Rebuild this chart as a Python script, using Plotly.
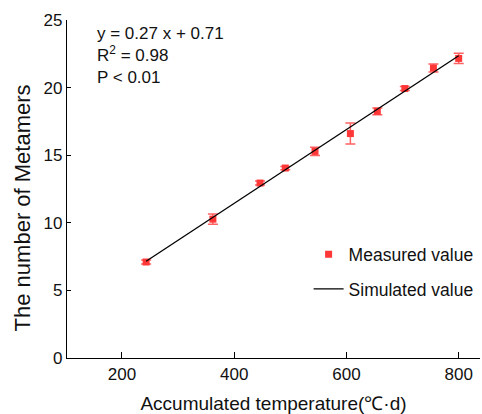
import plotly.graph_objects as go

# Measured data
temp = [243, 362, 446, 491, 544, 607, 655, 704, 755, 800]
metamers = [7.1, 10.27, 12.94, 14.05, 15.28, 16.6, 18.25, 19.93, 21.45, 22.16]
err = [0.15, 0.38, 0.15, 0.12, 0.3, 0.78, 0.25, 0.15, 0.3, 0.38]

# Simulated line
sim_temp = [243, 800]
sim_val = [7.15, 22.36]

x_ticks = [200, 400, 600, 800]
y_ticks = [0, 5, 10, 15, 20, 25]

FONT = "Liberation Sans, Arial, sans-serif"
RED = "rgb(255,55,55)"

fig = go.Figure()
fig.add_trace(go.Scatter(
    x=temp, y=metamers, mode="markers", name="Measured value",
    marker=dict(symbol="square", size=7, color=RED),
    error_y=dict(type="data", array=err, color="rgba(255,70,70,0.85)", thickness=1.5, width=5),
    legendgroup="a",
))
fig.add_trace(go.Scatter(
    x=sim_temp, y=sim_val, mode="lines", name="Simulated value",
    line=dict(color="black", width=1.3),
    legendgroup="b",
))

fig.update_layout(
    width=482, height=414,
    margin=dict(l=67, r=2, t=20, b=56, autoexpand=False),
    paper_bgcolor="white", plot_bgcolor="white",
    font=dict(family=FONT, size=17, color="#111"),
    legend=dict(x=0.585, y=0.36, xanchor="left", yanchor="top",
                bgcolor="rgba(0,0,0,0)", tracegroupgap=9,
                font=dict(size=17.5), traceorder="grouped"),
    showlegend=True,
)
fig.update_xaxes(
    range=[102, 838], tickvals=x_ticks, ticks="inside", ticklen=6, tickwidth=1.3,
    tickcolor="black", showline=True, linecolor="black", linewidth=1.3,
    showgrid=False, zeroline=False, automargin=False,
    title=dict(text="Accumulated temperature(℃·d)", font=dict(size=19), standoff=14),
    tickfont=dict(size=17),
)
fig.update_yaxes(
    range=[0, 25], tickvals=y_ticks, ticks="inside", ticklen=4, tickwidth=1.3,
    tickcolor="black", showline=True, linecolor="black", linewidth=1.3,
    showgrid=False, zeroline=False, automargin=False,
    tickfont=dict(size=17),
)
# y-axis title (placed slightly below axis centre, as in the reference)
fig.add_annotation(
    xref="paper", yref="paper", x=-0.107, y=0.445, xanchor="center", yanchor="middle",
    text="The number of Metamers", textangle=-90, showarrow=False,
    font=dict(size=22, family=FONT, color="#111"),
)
fig.add_annotation(
    xref="paper", yref="paper", x=0.068, y=0.993, xanchor="left", yanchor="top",
    text="y = 0.27 x + 0.71<br>R<sup>2</sup> = 0.98<br>P < 0.01",
    showarrow=False, align="left", font=dict(size=17, family=FONT, color="#111"),
)
fig.write_html("out.html", config={"displayModeBar": False},
               post_script="document.body.style.margin='0';")
